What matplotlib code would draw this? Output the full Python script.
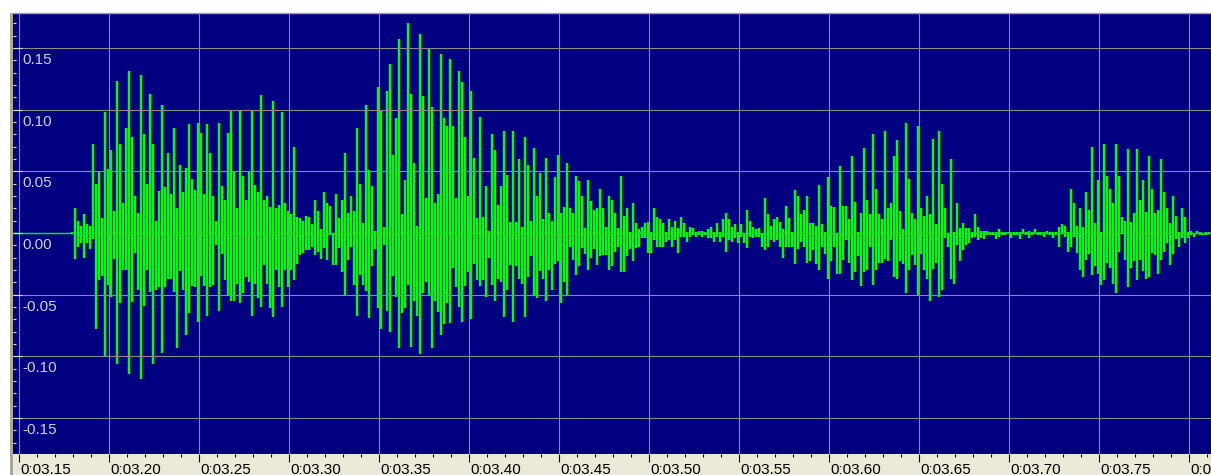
import numpy as np
import matplotlib
matplotlib.use('Agg')
import matplotlib.pyplot as plt
from matplotlib.patches import Rectangle
from matplotlib.ticker import MultipleLocator

plt.rcParams['font.family'] = ['Liberation Sans', 'DejaVu Sans']

# enveloppe du signal, une colonne toutes les 1/600 s, en millièmes
t_debut = 3.17917
pas = 0.05 / 30

haut = [
    1, 20, 10, 6, 15, 7, 6, 72, 40, 50,
    12, 98, 52, 67, 18, 123, 72, 24, 85, 131,
    78, 30, 16, 128, 80, 40, 113, 72, 10, 34,
    104, 37, 65, 32, 85, 20, 55, 33, 53, 88,
    44, 35, 89, 81, 32, 88, 65, 30, 10, 89,
    38, 27, 81, 99, 50, 20, 100, 46, 27, 50,
    99, 39, 33, 112, 27, 30, 21, 107, 20, 23,
    98, 24, 18, 15, 70, 13, 12, 10, 14, 13,
    7, 27, 18, 3, 33, 24, 22, 0, 32, 12,
    27, 65, 16, 30, 18, 85, 40, 8, 104, 51,
    38, 2, 118, 99, 5, 115, 137, 63, 93, 157,
    15, 43, 170, 113, 57, 6, 161, 111, 28, 150,
    102, 24, 32, 145, 93, 87, 141, 87, 28, 131,
    122, 78, 30, 115, 61, 12, 94, 13, 38, 2,
    80, 67, 23, 38, 83, 47, 9, 83, 9, 60,
    5, 78, 55, 10, 69, 30, 49, 11, 61, 16,
    10, 45, 63, 16, 21, 57, 20, 16, 46, 42,
    30, 4, 43, 26, 19, 20, 36,
    20, 5, 30, 27, 16, 4, 46, 14, 20, 1,
    24, 8, 3, 5, 8, 9, 1, 20, 13, 11,
    8, 1, 11, 5, 10, 4, 13, 8, 1, 5,
    4, 1, 2, 2, 1, 3, 5, 1, 8, 1,
    11, 16, 11, 5, 7, 1, 7, 0, 19, 10,
    5, 3, 4, 0, 28, 15, 6, 11, 13, 9,
    3, 22, 12, 1, 35, 30, 15, 19, 30, 8,
    8, 6, 39, 7, 1, 45, 22, 21, 0, 54,
    22, 22, 11, 62, 25, 1, 16, 69, 27, 15,
    80, 36, 15,
    11, 83, 20, 24, 62, 75, 18, 3, 89, 44,
    16, 11, 87, 20, 14, 30, 15, 76, 7, 83,
    40, 20, 0, 60, 1, 24, 4, 8, 4, 4,
    1, 15, 5, 2, 2, 2, 1, 1, 1, 3,
    1, 1, 1, 1, 1, 1, 1, 3, 1, 2,
    1, 3, 1, 1, 1, 2, 1, 1, 1, 5,
    7, 6, 1, 36, 24, 6, 20, 5, 33, 19,
    70, 8, 43, 1, 72, 46, 36, 24, 72, 46,
    13, 10, 68, 9, 16, 68, 27, 43, 17, 62,
    36, 16, 19, 60, 33, 20, 8, 30, 14, 1,
    20, 13, 1, 2, 0, 2, 1, 0, 1, 1,
    1,
]

bas = [
    0, -21, -11, -8, -20, -8, -13, -5, -78, -38,
    -35, -100, -42, -52, -21, -106, -57, -30, -30, -114,
    -56, -16, -46, -118, -59, -30, -48, -106, -46, -44,
    -97, -44, -37, -37, -48, -93, -31, -46, -83, -65,
    -43, -44, -72, -35, -43, -67, -44, -42, -10, -63,
    -17, -38, -51, -55, -55, -41, -57, -49, -36, -40,
    -67, -41, -53, -60, -26, -41, -61, -68, -30, -44,
    -60, -30, -44, -30, -38, -25, -18, -16, -14, -14,
    -11, -18, -15, -21, -12, -22, -2, -26, -26, -12,
    -32, -51, -22, -11, -42, -67, -34, -42, -47, -69,
    -27, -13, -61, -78, -10, -63, -80, -35, -52, -93,
    -65, -61, -42, -92, -55, -67, -98, -49, -40, -51,
    -93, -55, -64, -83, -74, -57, -73, -28, -44, -60,
    -72, -43, -32, -70, -25, -38, -43, -38, -52, -20,
    -42, -55, -37, -40, -68, -46, -26, -72, -27, -37,
    -41, -68, -36, -19, -51, -53, -31, -37, -55, -30,
    -46, -25, -23, -57, -40, -50, -11, -22, -34, -27,
    -12, -17, -30, -20, -13, -26, -19,
    -18, -18, -30, -27, -15, -11, -32, -32, -19, -13,
    -23, -12, -11, -4, -4, -16, -16, -6, -11, -11,
    -11, -7, -6, -11, -6, -16, -3, -3, -7, -3,
    -2, -3, -2, -3, -2, -4, -4, -7, -3, -7,
    -3, -15, -6, -7, -4, -8, -3, -8, -12, -3,
    -4, -3, -3, -11, -14, -11, -6, -7, -6, -11,
    -20, -11, -11, -11, -25, -13, -7, -11, -24, -23,
    -14, -25, -30, -11, -17, -37, -23, -11, -33, -33,
    -22, -6, -24, -38, -32, -19, -43, -32, -30, -11,
    -42, -30, -24,
    -24, -21, -23, -6, -36, -37, -23, -25, -49, -30,
    -18, -26, -51, -17, -30, -37, -55, -29, -24, -52,
    -46, -4, -11, -37, -41, -10, -23, -14, -10, -8,
    -4, -3, -6, -4, -5, -2, -2, -2, -5, -3,
    -2, -2, -1, -4, -2, -2, -5, -1, -2, -4,
    -2, -1, -2, -2, -3, -1, -2, -4, -2, -11,
    -1, -3, -15, -11, -3, -16, -30, -36, -22, -17,
    -34, -27, -33, -42, -38, -24, -28, -41, -49, -15,
    -1, -22, -44, -28, -23, -38, -22, -31, -37, -36,
    -16, -18, -33, -22, -15, -8, -26, -17, -5, -11,
    -4, -8, -4, -2, -3, -1, -2, -2, -2, -1,
    -1,
]

graduations = [3.15, 3.20, 3.25, 3.30, 3.35, 3.40, 3.45, 3.50,
               3.55, 3.60, 3.65, 3.70, 3.75, 3.80]
etiquettes_x = ['0:03.15', '0:03.20', '0:03.25', '0:03.30', '0:03.35',
                '0:03.40', '0:03.45', '0:03.50', '0:03.55', '0:03.60',
                '0:03.65', '0:03.70', '0:03.75', '0:0']
niveaux = [0.15, 0.10, 0.05, 0.00, -0.05, -0.10, -0.15]
etiquettes_y = ['0.15', '0.10', '0.05', '0.00', '-0.05', '-0.10', '-0.15']

W, H = 1211, 475
fig = plt.figure(figsize=(W / 100, H / 100), dpi=100)
fig.patch.set_facecolor('white')

# bandeaux de la règle (sous les axes)
fig.patches.append(Rectangle((10 / W, 0), 1, (H - 454) / H, transform=fig.transFigure,
                             facecolor='#ece9d8', edgecolor='none', zorder=-2))
fig.patches.append(Rectangle((10 / W, 0), 3.3 / W, (H - 13) / H, transform=fig.transFigure,
                             facecolor='#aca899', edgecolor='none', zorder=-1))

ax = fig.add_axes([13.3 / W, (H - 454) / H, (W - 13.3) / W, (454 - 13) / H])
ax.set_facecolor('#000080')

hi = np.array(haut) / 1000
lo = np.array(bas) / 1000
t = t_debut + pas * np.arange(len(hi))

ax.axhline(0, color='#00ff00', lw=1.0, zorder=1)
# une colonne verticale par pas de temps
ax.vlines(t, lo, hi, colors='#00ff00', linewidth=1.75, zorder=1.5)

ax.set_xlim(3.146833, 3.812222)
ax.set_ylim(-0.17909, 0.17828)

ax.set_xticks(graduations)
ax.xaxis.set_minor_locator(MultipleLocator(0.01))
ax.set_yticks(niveaux)
ax.yaxis.set_minor_locator(MultipleLocator(0.01))
ax.grid(True, which='major', color='#8c8c8c', lw=0.8)
ax.set_axisbelow(False)

ax.tick_params(axis='x', which='major', direction='out', length=6, width=0.8,
               color='black', labelbottom=False)
ax.tick_params(axis='x', which='minor', direction='out', length=2.2, width=0.8,
               color='black')
ax.tick_params(axis='y', which='major', direction='in', length=6.5, width=0.8,
               color='#e0e0e0', labelleft=False)
ax.tick_params(axis='y', which='minor', direction='in', length=2.5, width=0.8,
               color='#e0e0e0')

for nom, sp in ax.spines.items():
    sp.set_visible(nom == 'top')
ax.spines['top'].set_color('#a8a498')
ax.spines['top'].set_linewidth(1.0)

for g, lab in zip(graduations, etiquettes_x):
    ax.annotate(lab, xy=(g, 0), xycoords=('data', 'axes fraction'),
                xytext=(1, -9), textcoords='offset pixels',
                ha='left', va='top', fontsize=11, color='black',
                annotation_clip=False)

for v, lab in zip(niveaux, etiquettes_y):
    ax.annotate(lab, xy=(0, v), xycoords=('axes fraction', 'data'),
                xytext=(9, -5), textcoords='offset pixels',
                ha='left', va='top', fontsize=11, color='#d0d0d0')

fig.savefig('out.png', dpi=100, facecolor=fig.get_facecolor())
